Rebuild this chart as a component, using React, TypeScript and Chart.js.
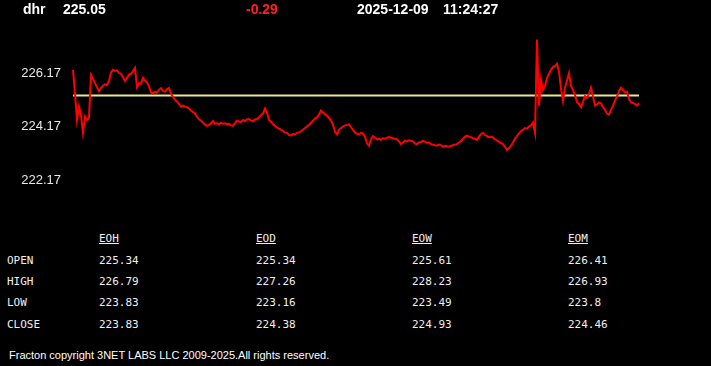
import React, { useEffect, useRef } from "react";
import { Chart, registerables } from "chart.js";

Chart.register(...registerables);

const symbol = "dhr";
const lastPrice = "225.05";
const change = "-0.29";
const dateText = "2025-12-09";
const timeText = "11:24:27";

const yTicks = [222.17, 224.17, 226.17];
const yMin = 222.17;
const yMax = 228.17;

const openLevel = 225.34;

const prices = [
  226.30, 225.40, 224.42, 224.92, 224.60, 223.94, 224.55, 224.42, 224.50, 226.10,
  225.95, 225.80, 225.65, 225.50, 225.62, 225.70, 225.76, 225.72, 225.88, 226.20,
  226.30, 226.26, 226.28, 226.18, 226.15, 226.02, 225.88, 226.00, 226.12, 226.15,
  226.25, 226.37, 225.65, 225.80, 225.78, 226.00, 225.90, 225.82, 225.68, 225.45,
  225.42, 225.48, 225.45, 225.55, 225.62, 225.50, 225.48, 225.58, 225.62, 225.40,
  225.28, 225.18, 225.12, 225.02, 224.92, 224.96, 224.92, 224.90, 224.85, 224.78,
  224.72, 224.66, 224.55, 224.45, 224.40, 224.32, 224.25, 224.20, 224.24, 224.30,
  224.38, 224.28, 224.30, 224.26, 224.32, 224.28, 224.30, 224.26, 224.28, 224.22,
  224.20, 224.30, 224.40, 224.36, 224.34, 224.42, 224.38, 224.44, 224.46, 224.40,
  224.38, 224.44, 224.46, 224.52, 224.60, 224.66, 224.85, 224.70, 224.42, 224.36,
  224.26, 224.20, 224.14, 224.10, 224.05, 224.02, 223.95, 223.94, 223.86, 223.84,
  223.90, 223.88, 223.94, 223.96, 224.00, 224.06, 224.12, 224.18, 224.24, 224.32,
  224.40, 224.48, 224.52, 224.62, 224.78, 224.70, 224.64, 224.58, 224.50, 224.40,
  224.24, 223.98, 223.88, 224.05, 224.12, 224.18, 224.22, 224.24, 224.26, 224.15,
  224.06, 223.95, 223.90, 223.88, 223.94, 223.92, 223.80, 223.55, 223.46, 223.70,
  223.82, 223.76, 223.70, 223.72, 223.68, 223.74, 223.72, 223.76, 223.78, 223.76,
  223.74, 223.72, 223.70, 223.62, 223.52, 223.58, 223.64, 223.62, 223.66, 223.64,
  223.62, 223.54, 223.52, 223.58, 223.60, 223.64, 223.61, 223.56, 223.58, 223.52,
  223.50, 223.48, 223.46, 223.50, 223.48, 223.42, 223.45, 223.44, 223.42, 223.46,
  223.48, 223.50, 223.52, 223.58, 223.64, 223.72, 223.80, 223.84, 223.80, 223.78,
  223.74, 223.72, 223.68, 223.80, 223.90, 223.94, 223.86, 223.82, 223.78, 223.80,
  223.76, 223.70, 223.66, 223.60, 223.56, 223.52, 223.42, 223.30, 223.36, 223.46,
  223.58, 223.72, 223.82, 223.92, 224.00, 224.06, 224.12, 224.10, 224.18, 224.22,
  224.33, 223.94, 227.43, 224.96, 225.93, 225.55, 225.70, 225.99, 226.15, 226.30,
  226.41, 226.44, 226.53, 226.23, 225.60, 225.14, 225.63, 225.90, 226.17, 225.70,
  225.55, 225.35, 225.10, 225.02, 224.90, 225.10, 225.32, 225.25, 225.40, 225.63,
  225.30, 224.96, 225.00, 225.08, 225.05, 224.90, 224.80, 224.66, 224.62, 224.80,
  224.96, 225.15, 225.30, 225.50, 225.63, 225.55, 225.45, 225.48, 225.20, 225.08,
  225.06, 225.02, 224.96, 225.05,
];

const columns = ["EOH", "EOD", "EOW", "EOM"];
const rowLabels = ["OPEN", "HIGH", "LOW", "CLOSE"];
const openRow = ["225.34", "225.34", "225.61", "226.41"];
const highRow = ["226.79", "227.26", "228.23", "226.93"];
const lowRow = ["223.83", "223.16", "223.49", "223.8"];
const closeRow = ["223.83", "224.38", "224.93", "224.46"];
const tableRows = [openRow, highRow, lowRow, closeRow];

const footer = "Fracton copyright 3NET LABS LLC 2009-2025.All rights reserved.";

const SANS = "'Liberation Sans', Arial, sans-serif";
const MONO = "'DejaVu Sans Mono', monospace";

function Txt(props: {
  x: number;
  baseline: number;
  size: number;
  family: string;
  color: string;
  bold?: boolean;
  underline?: boolean;
  children: React.ReactNode;
}) {
  const top = props.baseline - 0.846 * props.size;
  return (
    <span
      style={{
        position: "absolute",
        left: props.x,
        top,
        fontSize: props.size,
        lineHeight: 1,
        fontFamily: props.family,
        fontWeight: props.bold ? "bold" : "normal",
        color: props.color,
        whiteSpace: "pre",
        textDecoration: props.underline ? "underline" : "none",
      }}
    >
      {props.children}
    </span>
  );
}

export default function App() {
  const canvasRef = useRef<HTMLCanvasElement | null>(null);

  useEffect(() => {
    const canvas = canvasRef.current;
    if (!canvas) return;
    const labels = prices.map((_, i) => i);
    const chart = new Chart(canvas, {
      type: "line",
      data: {
        labels,
        datasets: [
          {
            data: prices,
            borderColor: "#ff0000",
            borderWidth: 2,
            pointRadius: 0,
            tension: 0,
            fill: false,
          },
          {
            data: prices.map(() => openLevel),
            borderColor: "#e8e88e",
            borderWidth: 2,
            pointRadius: 0,
            tension: 0,
            fill: false,
          },
        ],
      },
      options: {
        responsive: false,
        animation: false,
        devicePixelRatio: 1,
        layout: { padding: { left: 0, top: 18, right: 72, bottom: 16 } },
        plugins: {
          legend: { display: false },
          tooltip: { enabled: false },
          title: { display: false },
        },
        scales: {
          x: {
            type: "category",
            display: false,
            offset: false,
          },
          y: {
            min: yMin,
            max: yMax,
            grid: { display: false, drawTicks: false },
            border: { display: false },
            afterFit: (scale: any) => {
              scale.width = 73;
            },
            afterBuildTicks: (scale: any) => {
              scale.ticks = yTicks.map((v) => ({ value: v }));
            },
            ticks: {
              padding: 12,
              color: "#e8e8e8",
              font: { family: "'Liberation Sans', Arial, sans-serif", size: 13 },
              callback: (v: any) => Number(v).toFixed(2),
            },
          },
        },
      },
    });
    return () => chart.destroy();
  }, []);

  const colX = [99, 256, 412, 568];
  const rowBase = [264, 285.5, 306.5, 328];

  return (
    <div
      style={{
        position: "fixed",
        left: 0,
        top: 0,
        width: 711,
        height: 366,
        background: "#000000",
        overflow: "hidden",
      }}
    >
      <canvas
        ref={canvasRef}
        width={711}
        height={200}
        style={{ position: "absolute", left: 0, top: 0, width: 711, height: 200 }}
      />
      <Txt x={23} baseline={14} size={14} family={SANS} color="#ffffff" bold>
        {symbol}
      </Txt>
      <Txt x={63} baseline={14} size={14} family={SANS} color="#ffffff" bold>
        {lastPrice}
      </Txt>
      <Txt x={246} baseline={14} size={14} family={SANS} color="#ff2020" bold>
        {change}
      </Txt>
      <Txt x={357} baseline={14} size={14} family={SANS} color="#ffffff" bold>
        {dateText}
      </Txt>
      <Txt x={443} baseline={14} size={14} family={SANS} color="#ffffff" bold>
        {timeText}
      </Txt>

      {columns.map((c, i) => (
        <Txt key={c} x={colX[i]} baseline={242} size={11} family={MONO} color="#f0f0f0" underline>
          {c}
        </Txt>
      ))}
      {rowLabels.map((r, ri) => (
        <React.Fragment key={r}>
          <Txt x={7} baseline={rowBase[ri]} size={11} family={MONO} color="#f0f0f0">
            {r}
          </Txt>
          {tableRows[ri].map((v, ci) => (
            <Txt key={ci} x={colX[ci]} baseline={rowBase[ri]} size={11} family={MONO} color="#f0f0f0">
              {v}
            </Txt>
          ))}
        </React.Fragment>
      ))}

      <Txt x={9} baseline={359} size={11} family={SANS} color="#ffffff">
        {footer}
      </Txt>
    </div>
  );
}
